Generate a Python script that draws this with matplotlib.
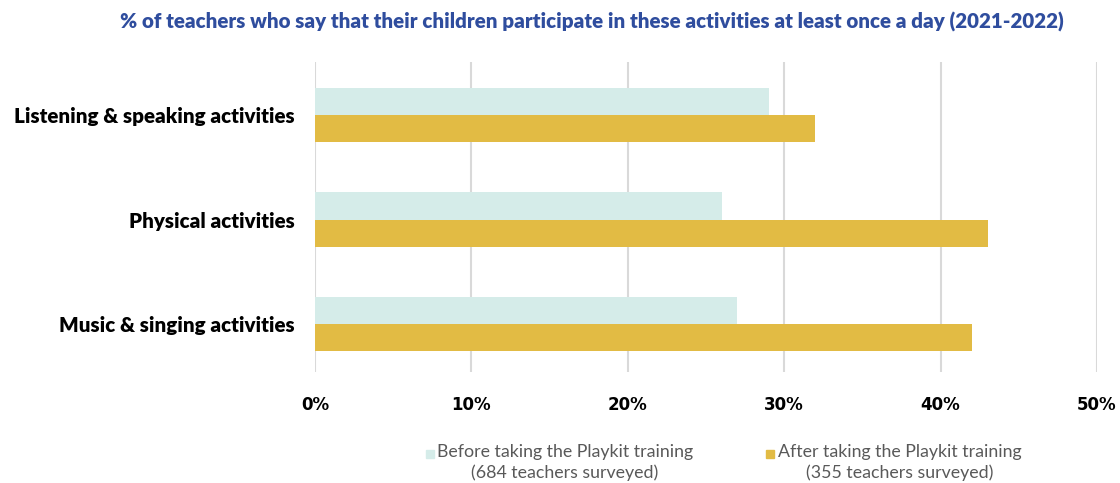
import matplotlib.pyplot as plt
from matplotlib.patches import Rectangle

# data
categories = ['Listening & speaking activities', 'Physical activities', 'Music & singing activities']
before_pct = [29, 26, 27]
after_pct = [32, 43, 42]
x_ticks = [0, 10, 20, 30, 40, 50]
before_label = 'Before taking the Playkit training\n(684 teachers surveyed)'
after_label = 'After taking the Playkit training\n(355 teachers surveyed)'
title = '% of teachers who say that their children participate in these activities at least once a day (2021-2022)'

before_color = '#D5ECE9'
after_color = '#E2BB44'
title_color = '#2F4D9E'

W, H = 1120, 483
fig = plt.figure(figsize=(W / 100, H / 100), dpi=100)
ax = fig.add_axes([315 / W, (H - 372) / H, (1097 - 315) / W, (372 - 62) / H])

pos = list(range(len(categories)))
bar_h = 0.26
ax.barh([p - bar_h / 2 for p in pos], before_pct, height=bar_h, color=before_color, zorder=2)
ax.barh([p + bar_h / 2 for p in pos], after_pct, height=bar_h, color=after_color, zorder=2)

ax.set_xlim(0, 50)
ax.set_ylim(2.46, -0.51)
ax.set_xticks(x_ticks)
ax.set_xticklabels([f'{t}%' for t in x_ticks], fontfamily='DejaVu Sans',
                   fontweight='heavy', fontsize=12)
ax.set_yticks(pos)
ax.set_yticklabels(categories, fontfamily='Lato', fontweight='heavy', fontsize=14.8)
ax.tick_params(axis='both', length=0)
ax.tick_params(axis='x', pad=17)
ax.tick_params(axis='y', pad=14.5)
ax.xaxis.grid(True, color='#D9D9D9', linewidth=1.5, zorder=0)
ax.set_axisbelow(True)
for s in ax.spines.values():
    s.set_visible(False)

fig.text(592 / W, 1 - 22 / H, title, ha='center', va='center', color=title_color,
         fontfamily='Lato', fontweight='heavy', fontsize=14.8)

# legend, drawn by hand so the swatch sits by the first line
for sq_x, txt_x, label, color in [(426, 565, before_label, before_color),
                                  (766, 900, after_label, after_color)]:
    fig.patches.append(Rectangle((sq_x / W, 1 - 458 / H), 8 / W, 8 / H,
                                 transform=fig.transFigure, color=color))
    fig.text(txt_x / W, 1 - 444 / H, label, ha='center', va='top', multialignment='center',
             color='#595959', fontfamily='Lato', fontsize=12.8, linespacing=1.3)

fig.savefig('out.png', dpi=100)
